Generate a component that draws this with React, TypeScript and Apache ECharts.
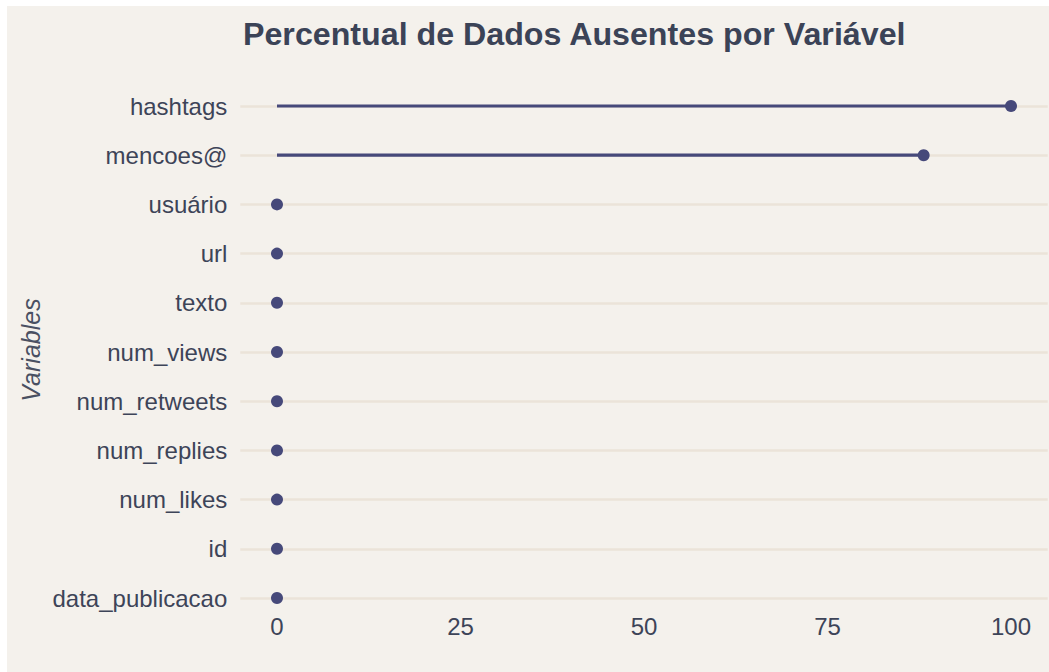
import React, { useEffect, useRef } from "react";
import * as echarts from "echarts";

const categories = [
  "hashtags",
  "mencoes@",
  "usuário",
  "url",
  "texto",
  "num_views",
  "num_retweets",
  "num_replies",
  "num_likes",
  "id",
  "data_publicacao",
];
const percentMissing = [100, 88.1, 0, 0, 0, 0, 0, 0, 0, 0, 0];
const xTickValues = [0, 25, 50, 75, 100];

const FONT = '"Liberation Sans", Arial, Helvetica, sans-serif';
const TEXT = "#3d4458";
const MARK = "#46497a";

export default function App() {
  const ref = useRef<HTMLDivElement>(null);
  useEffect(() => {
    if (!ref.current) return;
    const chart = echarts.init(ref.current, undefined, { renderer: "svg" });
    chart.setOption({
      animation: false,
      backgroundColor: "#f4f1ec",
      textStyle: { fontFamily: FONT },
      title: {
        text: "Percentual de Dados Ausentes por Variável",
        left: 231,
        top: 7,
        textStyle: { fontFamily: FONT, fontSize: 32.2, fontWeight: "bold", color: "#3b4357" },
      },
      graphic: [
        {
          type: "text",
          x: 24,
          y: 344,
          rotation: Math.PI / 2,
          style: {
            text: "Variables",
            fontFamily: FONT,
            fontSize: 25,
            fontStyle: "italic",
            fill: "#4a5062",
            textAlign: "center",
            textVerticalAlign: "middle",
          },
        },
      ],
      grid: { left: 233.3, right: 1.3, top: 100, bottom: 74, containLabel: false },
      xAxis: {
        type: "value",
        min: -5,
        max: 105,
        axisLine: { show: false },
        axisTick: { show: false },
        splitLine: { show: false },
        axisLabel: {
          customValues: xTickValues,
          fontFamily: FONT,
          fontSize: 24,
          color: TEXT,
          margin: 16,
        },
      },
      yAxis: {
        type: "category",
        data: categories,
        inverse: true,
        boundaryGap: false,
        axisLine: { show: false },
        axisTick: { show: false },
        splitLine: { show: true, lineStyle: { color: "#ebe3d9", width: 2.5 } },
        axisLabel: { fontFamily: FONT, fontSize: 24, color: TEXT, margin: 13, interval: 0 },
      },
      series: [
        {
          type: "bar",
          data: percentMissing,
          barWidth: 3.2,
          itemStyle: { color: MARK },
          silent: true,
        },
        {
          type: "scatter",
          data: percentMissing,
          symbol: "circle",
          symbolSize: 12,
          itemStyle: { color: MARK, opacity: 1 },
          z: 3,
        },
      ],
    });
    return () => chart.dispose();
  }, []);
  return (
    <div
      ref={ref}
      style={{ position: "absolute", left: 7, top: 6, width: 1042, height: 666 }}
    />
  );
}
